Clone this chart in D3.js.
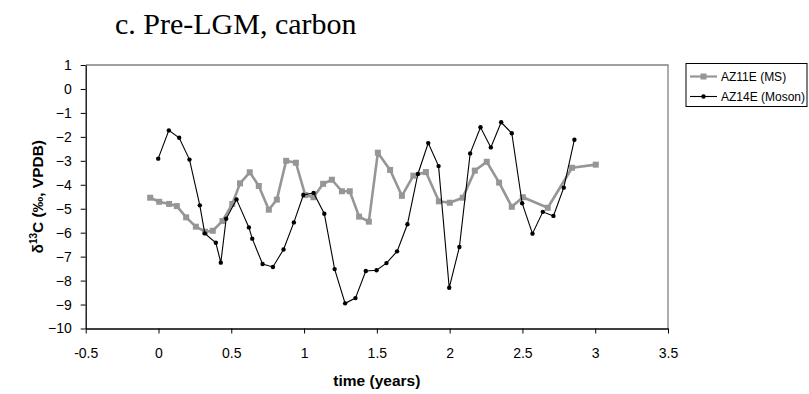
<!DOCTYPE html>
<html><head><meta charset="utf-8">
<script src="https://cdn.jsdelivr.net/npm/d3@7"></script>
<style>
body{margin:0;background:#fff;}
svg{display:block;}
</style></head>
<body>
<script>
const title = "c. Pre-LGM, carbon";
const seriesNames = ["AZ11E (MS)", "AZ14E (Moson)"];
const xTicks = [-0.5, 0, 0.5, 1, 1.5, 2, 2.5, 3, 3.5];
const yTicks = [-10, -9, -8, -7, -6, -5, -4, -3, -2, -1, 0, 1];

const msX = [-0.057, 0.005, 0.073, 0.126, 0.19, 0.257, 0.32, 0.373, 0.44, 0.507, 0.56, 0.627, 0.689, 0.758, 0.813, 0.877, 0.944, 1.008, 1.065, 1.131, 1.191, 1.26, 1.314, 1.378, 1.445, 1.507, 1.591, 1.672, 1.751, 1.837, 1.926, 2.001, 2.09, 2.173, 2.255, 2.34, 2.427, 2.503, 2.674, 2.841, 3.004];
const msY = [-4.54, -4.71, -4.80, -4.89, -5.36, -5.75, -5.96, -5.92, -5.51, -4.80, -3.94, -3.48, -4.05, -5.04, -4.62, -3.00, -3.08, -4.43, -4.52, -3.96, -3.79, -4.27, -4.27, -5.33, -5.54, -2.66, -3.38, -4.46, -3.62, -3.47, -4.69, -4.75, -4.54, -3.41, -3.04, -3.91, -4.92, -4.52, -4.96, -3.29, -3.16];

const mosX = [-0.002, 0.071, 0.142, 0.213, 0.284, 0.318, 0.394, 0.428, 0.465, 0.536, 0.621, 0.644, 0.715, 0.786, 0.859, 0.93, 0.995, 1.066, 1.139, 1.21, 1.282, 1.353, 1.424, 1.498, 1.566, 1.639, 1.71, 1.782, 1.853, 1.924, 1.997, 2.067, 2.141, 2.212, 2.283, 2.354, 2.427, 2.498, 2.569, 2.64, 2.713, 2.784, 2.857];
const mosY = [-2.91, -1.73, -2.04, -2.95, -4.86, -6.03, -6.42, -7.25, -5.42, -4.61, -5.78, -6.25, -7.31, -7.43, -6.70, -5.57, -4.43, -4.34, -5.21, -7.52, -8.95, -8.73, -7.60, -7.57, -7.27, -6.78, -5.65, -3.55, -2.26, -3.22, -8.30, -6.60, -2.69, -1.60, -2.44, -1.39, -1.85, -4.77, -6.04, -5.13, -5.30, -4.12, -2.12];

const W = 809, H = 394;
const svg = d3.select("body").append("svg").attr("width", W).attr("height", H);

const x = d3.scaleLinear().domain([-0.5, 3.5]).range([85.7, 668]);
const y = d3.scaleLinear().domain([-10, 1]).range([328.5, 65]);

const grayCol = "#969696";
const fontSans = "'Liberation Sans', Arial, sans-serif";

// Title
svg.append("text").attr("x", 115).attr("y", 34)
  .attr("font-family", "'Liberation Serif', 'Times New Roman', serif")
  .attr("font-size", 30).attr("fill", "#000").text(title);

// plot frame (top/right gray)
svg.append("path")
  .attr("d", `M${x(-0.5)},${y(1)}H${x(3.5)}V${y(-10)}`)
  .attr("fill", "none").attr("stroke", "#808080").attr("stroke-width", 1.3);

// axes
const yAxis = d3.axisLeft(y).tickValues(yTicks).tickSizeInner(5).tickSizeOuter(0).tickPadding(9)
  .tickFormat(d3.format("d"));
const gy = svg.append("g").attr("transform", `translate(${x(-0.5)},0)`).call(yAxis);
const xAxis = d3.axisBottom(x).tickValues(xTicks).tickSizeInner(5).tickSizeOuter(0).tickPadding(15)
  .tickFormat(d => String(d));
const gx = svg.append("g").attr("transform", `translate(0,${y(-10)})`).call(xAxis);
[gx, gy].forEach(g => {
  g.selectAll("text").attr("font-family", fontSans).attr("font-size", 14).attr("fill", "#000");
  g.selectAll("line").attr("stroke", "#000");
  g.select(".domain").attr("stroke", "#000").attr("stroke-width", 1.3);
});

// axis titles
svg.append("text").attr("x", (x(-0.5) + x(3.5)) / 2).attr("y", 386)
  .attr("text-anchor", "middle").attr("font-family", fontSans).attr("font-weight", "bold")
  .attr("font-size", 15.5).text("time (years)");
const yt = svg.append("text").attr("transform", `translate(43,${(y(1) + y(-10)) / 2}) rotate(-90)`)
  .attr("text-anchor", "middle").attr("font-family", fontSans).attr("font-weight", "bold")
  .attr("font-size", 15.5);
yt.append("tspan").text("δ");
yt.append("tspan").attr("font-size", 10).attr("dy", -6).text("13");
yt.append("tspan").attr("dy", 6).text("C (‰, VPDB)");

// series data
const ms = msX.map((v, i) => [v, msY[i]]);
const mos = mosX.map((v, i) => [v, mosY[i]]);
const line = d3.line().x(d => x(d[0])).y(d => y(d[1]));

svg.append("path").attr("d", line(ms)).attr("fill", "none")
  .attr("stroke", grayCol).attr("stroke-width", 2.6).attr("stroke-linejoin", "round");
svg.append("g").selectAll("rect").data(ms).join("rect")
  .attr("x", d => x(d[0]) - 3).attr("y", d => y(d[1]) - 3)
  .attr("width", 6).attr("height", 6).attr("fill", grayCol);

svg.append("path").attr("d", line(mos)).attr("fill", "none")
  .attr("stroke", "#000").attr("stroke-width", 1.1);
svg.append("g").selectAll("circle").data(mos).join("circle")
  .attr("cx", d => x(d[0])).attr("cy", d => y(d[1])).attr("r", 2.2).attr("fill", "#000");

// legend
const lg = svg.append("g");
lg.append("rect").attr("x", 686).attr("y", 63.5).attr("width", 121).attr("height", 43)
  .attr("fill", "#fff").attr("stroke", "#000").attr("stroke-width", 1);
const ly = [76.5, 96.5];
seriesNames.forEach((name, i) => {
  if (i === 0) {
    lg.append("line").attr("x1", 690).attr("x2", 717).attr("y1", ly[i]).attr("y2", ly[i])
      .attr("stroke", grayCol).attr("stroke-width", 2.2);
    lg.append("rect").attr("x", 700.5).attr("y", ly[i] - 3).attr("width", 6).attr("height", 6).attr("fill", grayCol);
  } else {
    lg.append("line").attr("x1", 690).attr("x2", 717).attr("y1", ly[i]).attr("y2", ly[i])
      .attr("stroke", "#000").attr("stroke-width", 1.1);
    lg.append("circle").attr("cx", 703.5).attr("cy", ly[i]).attr("r", 2.2).attr("fill", "#000");
  }
  lg.append("text").attr("x", 721).attr("y", ly[i] + 4.5).attr("font-family", fontSans)
    .attr("font-size", 12).text(name);
});
</script>
</body></html>
